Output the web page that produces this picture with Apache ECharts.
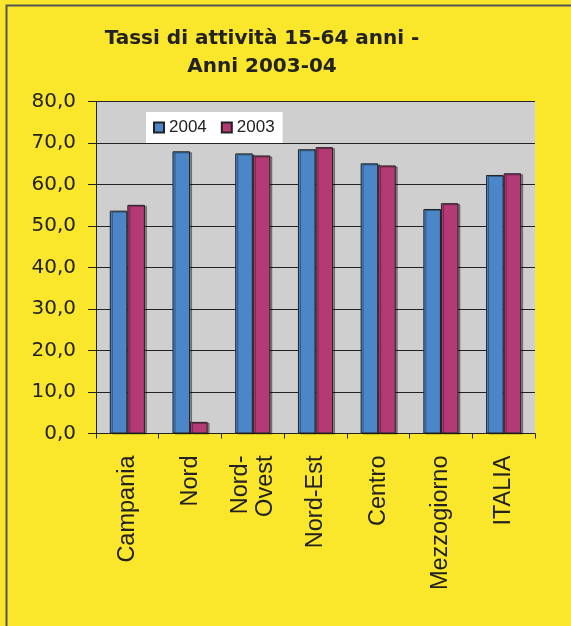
<!DOCTYPE html>
<html><head><meta charset="utf-8">
<script src="https://cdn.jsdelivr.net/npm/echarts@6/dist/echarts.min.js"></script>
<style>html,body{margin:0;padding:0;background:#FAE62A}#c{width:571px;height:626px}</style>
</head><body><div id="c"></div>
<script>
const titleLines = ['Tassi di attività 15-64 anni -', 'Anni 2003-04'];
const categories = ['Campania', 'Nord', 'Nord-\nOvest', 'Nord-Est', 'Centro', 'Mezzogiorno', 'ITALIA'];
const seriesNames = ['2004', '2003'];
const values2004 = [53.7, 68.0, 67.5, 68.5, 65.1, 54.1, 62.3];
const values2003 = [55.1, 2.8, 67.0, 69.0, 64.6, 55.5, 62.7];
const yMin = 0, yMax = 80, yStep = 10;

const chart = echarts.init(document.getElementById('c'), null, {renderer: 'canvas'});
const barStyle = (c) => ({color: c, borderColor: '#222', borderWidth: 1,
  shadowColor: 'rgba(0,0,0,0.35)', shadowOffsetX: 2, shadowOffsetY: 1, shadowBlur: 0});
chart.setOption({
  backgroundColor: '#FAE62A',
  animation: false,
  graphic: [
    {type: 'rect', shape: {x: 6.5, y: 5.5, width: 700, height: 700}, style: {fill: 'none', stroke: '#555', lineWidth: 2}, silent: true},
    {type: 'text', x: 262, y: 25, style: {text: titleLines.join('\n'), align: 'center', font: 'bold 20px "DejaVu Sans"', fill: '#222', lineHeight: 28}}
  ],
  grid: {left: 96, right: 36, top: 101.5, bottom: 192.5, show: true, backgroundColor: '#CFCFCF', borderWidth: 0},
  legend: {
    data: seriesNames, left: 146, top: 112, orient: 'horizontal',
    backgroundColor: '#fff', padding: [7, 8, 7, 7], itemWidth: 10, itemHeight: 10, itemGap: 14,
    icon: 'rect', textStyle: {fontFamily: 'Liberation Sans', fontSize: 17, color: '#222', padding: [0,0,0,0]}
  },
  xAxis: {
    type: 'category', data: categories,
    axisLine: {lineStyle: {color: '#222', width: 1}},
    axisTick: {show: true, alignWithLabel: false, length: 5, lineStyle: {color: '#222'}},
    axisLabel: {rotate: 90, fontFamily: 'Liberation Sans', fontSize: 23.5, color: '#222', margin: 22, lineHeight: 25, interval: 0}
  },
  yAxis: {
    type: 'value', min: yMin, max: yMax, interval: yStep,
    axisLine: {show: true, lineStyle: {color: '#222'}},
    axisTick: {show: true, length: 8, inside: false, lineStyle: {color: '#222'}},
    splitLine: {lineStyle: {color: '#222', width: 1}},
    axisLabel: {fontFamily: 'DejaVu Sans', fontSize: 20, color: '#222', margin: 20,
      formatter: v => v.toFixed(1).replace('.', ',')}
  },
  series: [
    {name: seriesNames[0], type: 'bar', data: values2004, barGap: '0%', barCategoryGap: '44%', itemStyle: barStyle('#4A86C8')},
    {name: seriesNames[1], type: 'bar', data: values2003, barGap: '0%', barCategoryGap: '44%', itemStyle: barStyle('#B33A74')}
  ]
});
</script></body></html>
